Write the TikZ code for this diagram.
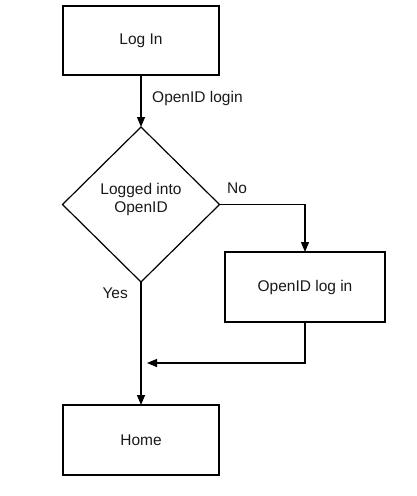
\documentclass[tikz,border=0pt]{standalone}
\usepackage{fontspec}
\setmainfont{Liberation Sans}
\usetikzlibrary{shapes.geometric,arrows.meta}
\begin{document}
\begin{tikzpicture}[x=1pt,y=-1pt,
  every node/.style={font=\fontsize{15.5}{18}\selectfont, text=black!90},
  boxnode/.style={draw, line width=1.2pt, rectangle, inner sep=0pt, outer sep=0pt, minimum width=156pt, minimum height=69pt},
  decnode/.style={draw, line width=1.2pt, diamond, inner sep=0pt, outer sep=0pt, minimum width=157pt, minimum height=155pt, align=center},
  arr/.style={line width=1.2pt, -{Triangle[length=10pt,width=8pt]}},
  lbl/.style={inner sep=0pt}]
\useasboundingbox (0,0) rectangle (416,496);
\node[boxnode] (login) at (141,40.5) {Log In};
\node[decnode] (dec) at (141,204.5) {};
\node[lbl, align=center] (dectext) at (141,199) {Logged into\\OpenID};
\node[boxnode, minimum width=160pt, minimum height=70pt] (oid) at (305,287) {OpenID log in};
\node[boxnode, minimum height=70pt] (home) at (141,440) {Home};
\coordinate (merge) at (147,363);
\draw[arr] (login) -- (dec.north);
\node[lbl, anchor=west] (l1) at (152,98) {OpenID login};
\draw[arr] (dec.east) -| (oid.north);
\node[lbl, anchor=west] (l2) at (227,188) {No};
\draw[arr] (dec.south) -- (home.north);
\node[lbl, anchor=east] (l3) at (128,293) {Yes};
\draw[arr] (oid.south) |- (merge);
\end{tikzpicture}
\end{document}
